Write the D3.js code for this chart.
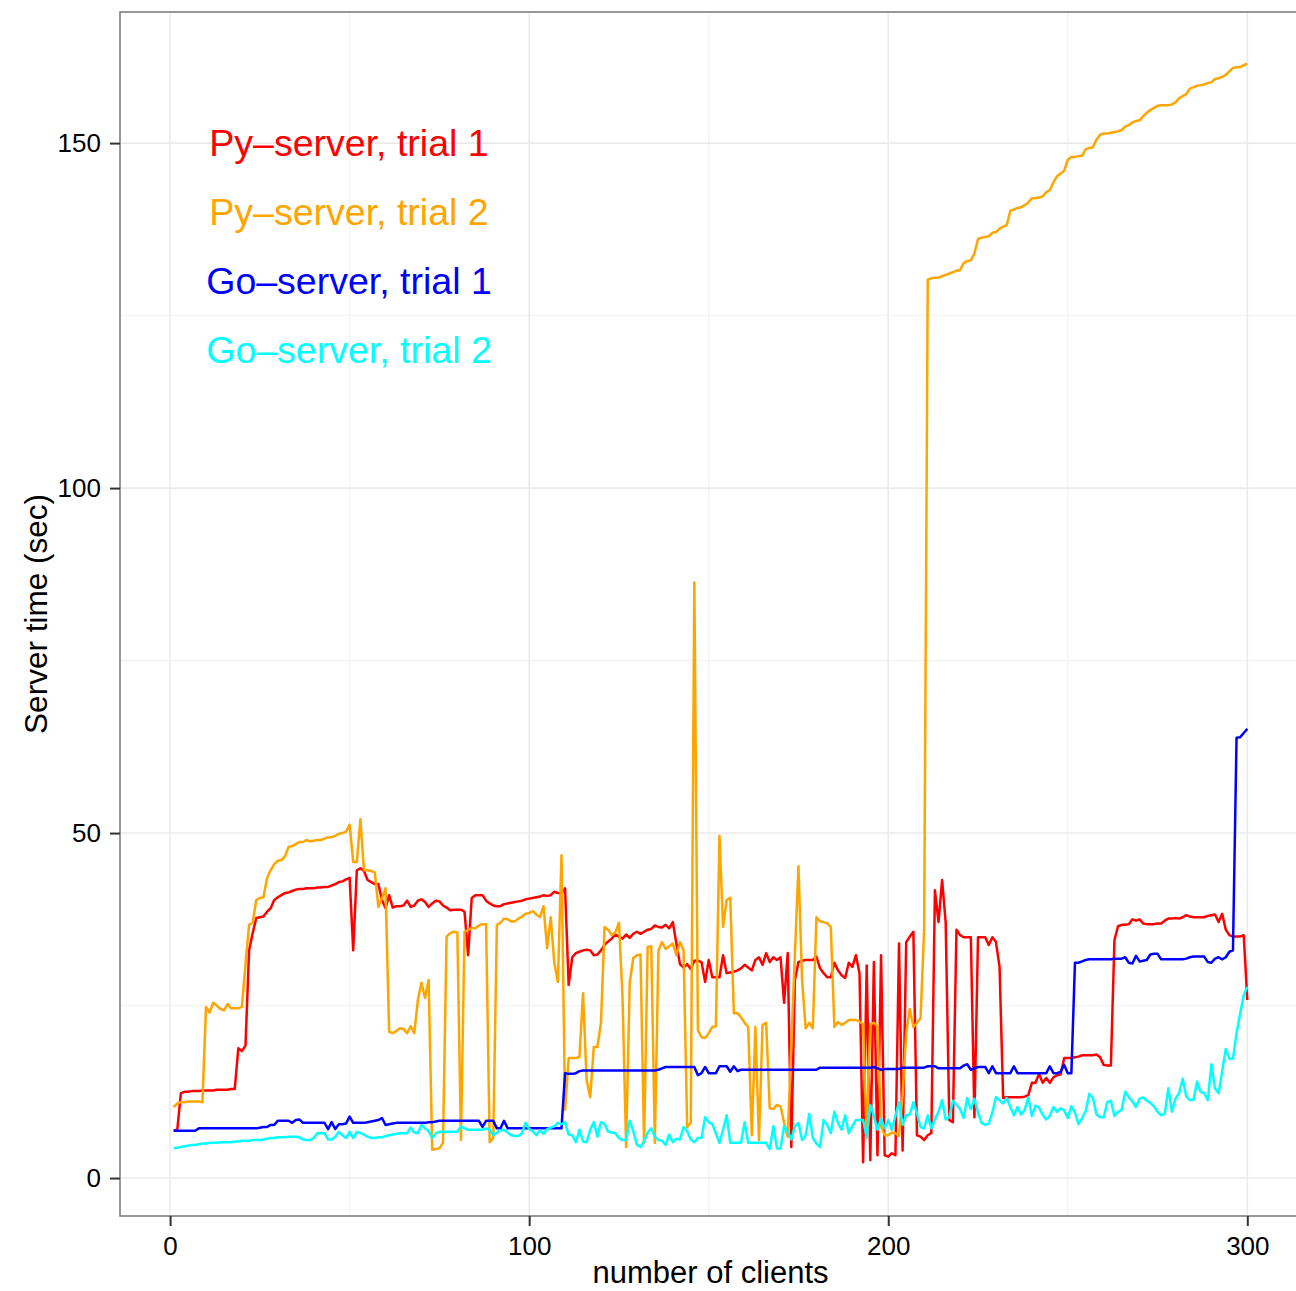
<!DOCTYPE html>
<html>
<head>
<meta charset="utf-8">
<script src="https://cdn.jsdelivr.net/npm/d3@7"></script>
<style>
  body { margin: 0; background: #fff; }
  svg { display: block; font-family: "Liberation Sans", Arial, Helvetica, sans-serif; }
</style>
</head>
<body>
<div id="chart"></div>
<script>
// Data: server time (sec) per number of clients, one value per client count 1..300
const clients = d3.range(1, 301);

const pyTrial1 = [
  6.9, 7.0, 12.3, 12.5, 12.5, 12.6, 12.6, 12.6, 12.7, 12.7,
  12.7, 12.7, 12.8, 12.8, 12.8, 12.8, 12.9, 12.9, 18.8, 18.4,
  19.2, 33, 35.5, 37.7, 37.8, 37.9, 38.6, 39.1, 40.3, 40.7,
  41, 41.3, 41.4, 41.6, 41.8, 41.9, 41.9, 42, 42, 42,
  42.1, 42.1, 42.2, 42.2, 42.4, 42.6, 42.9, 43, 43.3, 43.5,
  33, 44.6, 44.9, 44.5, 43.2, 42.9, 42.6, 42.6, 40.3, 39.1,
  41, 39.2, 39.4, 39.4, 39.5, 40.2, 39.3, 39.5, 40.2, 40.4,
  40, 39.3, 39.8, 40.2, 40.1, 39.5, 39.2, 38.8, 38.9, 38.9,
  38.9, 38.6, 32.3, 40.6, 41, 41, 41, 40.2, 39.8, 39.5,
  39.4, 39.4, 39.7, 39.8, 39.9, 40, 40.1, 40.2, 40.4, 40.5,
  40.6, 40.7, 40.8, 41, 40.9, 41, 41.5, 41.3, 41.2, 42,
  28, 32, 32.6, 32.8, 33, 33.1, 33, 32.3, 32.4, 33,
  33.8, 34.3, 34.7, 35.3, 35, 34.7, 35.3, 34.8, 35.4, 35.7,
  35.4, 35.7, 36, 36.1, 36.6, 36.4, 36.3, 36.7, 36.2, 37.1,
  34, 31, 30.5, 31, 30.3, 31.5, 31.5, 31.3, 28.4, 31.6,
  29.1, 29.1, 29.1, 32.3, 29.7, 29.8, 29.9, 30.1, 30.4, 30.9,
  30.5, 30.1, 31.6, 32, 30.9, 32.6, 31.3, 32, 31.6, 32,
  25.4, 32.6, 4.5, 28.7, 31.3, 31.5, 31.6, 31.6, 31.6, 32.1,
  30.4, 29.7, 29.1, 29.1, 31.2, 30.1, 29.4, 29, 31.2, 30.6,
  32.3, 29.7, 2.3, 30.8, 2.6, 31.3, 3.3, 32.3, 3.3, 3.1,
  3.6, 3.3, 34, 4, 34.2, 35, 35.7, 6.2, 6, 5.5,
  6.2, 6.5, 41.7, 37.1, 43.2, 37, 8.4, 8.1, 36, 35.2,
  34.9, 34.9, 34.9, 8.8, 34.9, 34.9, 34.9, 33.8, 34.9, 34.2,
  30.6, 11.6, 11.7, 11.7, 11.7, 11.7, 11.7, 11.8, 12, 13.8,
  13.8, 15.1, 13.8, 14.5, 13.8, 14.6, 14.9, 15, 17.4, 17.4,
  17.4, 17.5, 17.6, 17.8, 17.8, 17.8, 17.8, 17.9, 17.5, 16.4,
  16.3, 16.3, 34.5, 36.5, 36.7, 36.7, 36.8, 37.5, 37.3, 37.5,
  36.9, 36.8, 36.8, 36.8, 36.9, 36.9, 37.3, 37.6, 37.6, 37.7,
  37.6, 37.8, 38.1, 37.9, 37.8, 37.8, 37.8, 37.8, 38, 38.1,
  38.2, 37.1, 38.3, 36, 35.2, 35, 35, 35, 35.2, 25.8
];

const pyTrial2 = [
  10.3, 10.8, 11, 11, 11.1, 11.1, 11.1, 11.1, 11, 24.8,
  24, 25.4, 25, 24.5, 24.3, 25.2, 24.6, 24.6, 24.6, 24.8,
  31, 36.7, 37, 40.3, 40.6, 40.7, 43.5, 44.6, 45.5, 46,
  46.1, 46.6, 48, 48.1, 48.4, 48.7, 48.7, 49, 48.8, 48.9,
  49, 49, 49.2, 49.4, 49.4, 49.6, 49.9, 50, 50.2, 51.2,
  45.8, 45.8, 52, 44.6, 44.6, 44.5, 44.3, 39.3, 40.6, 42,
  21.2, 21, 21.3, 21.7, 21.6, 21, 22, 21, 25.8, 28.3,
  26.1, 28.7, 4.1, 4.2, 4.3, 5.1, 35, 35.5, 35.7, 35.6,
  5.5, 35.7, 36, 36.2, 36.2, 36.6, 36.8, 36.8, 5.2, 5.8,
  36.7, 37, 37.6, 37.5, 37.2, 37.2, 37.6, 37.9, 38.3, 38.4,
  38.7, 38.2, 37.8, 39.4, 33.3, 37.8, 31.2, 28.4, 46.8, 9.9,
  17.4, 17.4, 17.4, 17.5, 26.8, 14.2, 11.7, 19, 19, 22.5,
  36.4, 36, 35.2, 35.6, 37, 26.2, 4.5, 28.3, 31.9, 32.3,
  32.4, 5.1, 33.5, 33.6, 5.1, 33, 34.2, 33.2, 33.6, 34,
  32.3, 34.2, 33, 7.4, 8, 86.3, 21.4, 20.4, 20.3, 21,
  21.9, 22, 49.6, 36.4, 40.3, 40.6, 23.9, 23.9, 23.3, 22.5,
  21.9, 6.2, 21.9, 5.5, 22.2, 22.5, 10.1, 10, 10.6, 10.4,
  8, 6, 19.2, 32.4, 45.2, 28.7, 21.7, 22.5, 21.7, 37.8,
  37.2, 37.1, 36.9, 36.4, 21.9, 22.6, 22.2, 22.5, 22.9, 22.9,
  22.9, 22.7, 22.3, 5.8, 22.3, 22.5, 22, 7.5, 6.2, 6.2,
  6.6, 6.5, 6.1, 12, 21, 24.5, 21.9, 22.5, 23.2, 36,
  130.2, 130.4, 130.5, 130.5, 130.7, 130.9, 131.1, 131.3, 131.5, 131.6,
  132.6, 132.9, 133, 134, 136.1, 136.3, 136.4, 136.5, 137, 137.1,
  137.6, 137.9, 138.1, 140.2, 140.4, 140.6, 140.7, 141, 141.4, 142,
  142, 142.1, 142.3, 142.9, 143.2, 144.3, 145.2, 145.6, 146, 147.6,
  148, 148, 148.1, 148.2, 149.1, 149.3, 149.4, 150.5, 151.2, 151.4,
  151.4, 151.5, 151.6, 151.7, 151.9, 152.4, 152.6, 153, 153.2, 153.3,
  153.9, 154.4, 154.8, 155.1, 155.4, 155.5, 155.5, 155.5, 155.6, 155.9,
  156.5, 156.8, 157.1, 157.9, 158.1, 158.3, 158.4, 158.5, 158.7, 158.8,
  159.3, 159.4, 159.6, 159.9, 160.4, 160.9, 161, 161, 161.3, 161.5
];

const goTrial1 = [
  6.85, 6.85, 6.85, 6.85, 6.85, 6.85, 6.85, 7.2, 7.2, 7.2,
  7.2, 7.2, 7.2, 7.2, 7.2, 7.2, 7.2, 7.2, 7.2, 7.2,
  7.2, 7.2, 7.2, 7.2, 7.3, 7.4, 7.4, 7.7, 7.7, 8.3,
  8.3, 8.3, 8.3, 8.0, 8.4, 8.5, 8.0, 8.0, 8.0, 8.0,
  8.0, 8.0, 8.0, 7.1, 8.1, 7.1, 7.8, 7.8, 7.9, 8.9,
  8.0, 8.0, 8.0, 8.0, 8.1, 8.2, 8.3, 8.4, 8.7, 7.7,
  7.8, 7.9, 8.0, 8.0, 8.0, 8.0, 8.0, 8.0, 8.0, 8.0,
  8.0, 8.1, 8.1, 8.2, 8.3, 8.3, 8.3, 8.3, 8.3, 8.3,
  8.3, 8.3, 8.3, 8.3, 8.3, 8.3, 7.4, 8.3, 8.3, 8.3,
  7.2, 7.2, 8.3, 7.2, 7.2, 7.2, 7.2, 7.2, 7.2, 7.2,
  7.2, 7.2, 7.2, 7.2, 7.2, 7.2, 7.2, 7.2, 7.2, 15.2,
  15.1, 15.1, 15.2, 15.5, 15.6, 15.6, 15.6, 15.6, 15.6, 15.6,
  15.6, 15.6, 15.6, 15.6, 15.6, 15.6, 15.6, 15.6, 15.6, 15.6,
  15.6, 15.6, 15.6, 15.6, 15.6, 15.7, 15.9, 16.1, 16.1, 16.1,
  16.1, 16.1, 16.1, 16.1, 16.1, 16.1, 14.9, 15.2, 16.1, 15.2,
  15.2, 15.2, 16.2, 16.2, 16.2, 15.4, 16.2, 15.5, 15.7, 15.7,
  15.7, 15.7, 15.7, 15.7, 15.7, 15.7, 15.7, 15.7, 15.7, 15.7,
  15.7, 15.7, 15.7, 15.7, 15.7, 15.7, 15.7, 15.7, 15.7, 15.7,
  16.0, 16.0, 16.0, 16.0, 16.0, 16.0, 16.0, 16.0, 16.0, 16.0,
  16.0, 16.0, 16.0, 16.0, 16.0, 16.1, 15.9, 15.7, 15.8, 15.8,
  15.8, 15.8, 15.8, 16.0, 16.0, 16.0, 16.0, 16.0, 16.0, 16.0,
  16.2, 16.2, 16.2, 15.9, 15.9, 15.9, 15.9, 15.9, 15.9, 15.9,
  16.3, 16.5, 15.7, 15.9, 16.1, 16.1, 16.1, 15.2, 16.2, 15.2,
  15.2, 15.2, 15.2, 15.2, 16.2, 15.2, 15.2, 15.2, 15.2, 15.2,
  15.2, 15.2, 15.2, 15.2, 16.2, 15.2, 15.2, 15.4, 16.4, 15.2,
  15.2, 31.2, 31.2, 31.4, 31.6, 31.7, 31.7, 31.7, 31.7, 31.7,
  31.7, 31.7, 31.8, 31.8, 31.8, 32, 31.2, 31.1, 32.2, 31.4,
  31.5, 31.6, 32.4, 32.5, 32.5, 31.7, 31.7, 31.7, 31.7, 31.7,
  31.7, 31.7, 31.8, 32, 32.1, 32.1, 32.1, 32.1, 31.3, 31.2,
  31.8, 32, 31.7, 32, 32.8, 33, 63.8, 63.9, 64.5, 65.1
];

const goTrial2 = [
  4.3, 4.4, 4.5, 4.6, 4.7, 4.8, 4.8, 4.9, 5.0, 5.0,
  5.1, 5.1, 5.1, 5.2, 5.2, 5.2, 5.2, 5.3, 5.3, 5.4,
  5.4, 5.4, 5.5, 5.5, 5.5, 5.6, 5.7, 5.8, 5.8, 5.9,
  5.9, 5.9, 6.0, 6.0, 6.0, 5.9, 5.6, 5.5, 5.5, 5.8,
  6.5, 6.5, 6.5, 5.6, 5.6, 6.0, 6.7, 6.2, 5.8, 6.7,
  5.8, 6.7, 6.5, 6.3, 6.0, 5.8, 5.8, 5.9, 5.9, 6.1,
  6.2, 6.3, 6.4, 6.5, 6.5, 6.5, 7.3, 6.6, 6.5, 7.7,
  7.2, 6.8, 5.8, 6.5, 6.7, 6.7, 6.7, 6.7, 6.7, 6.7,
  7.5, 7.2, 7.0, 7.0, 7.0, 7.0, 7.0, 7.2, 7.0, 6.2,
  6.6, 6.9, 7.0, 6.6, 6.2, 6.1, 6.1, 6.5, 8.0, 7.1,
  6.8, 6.2, 6.9, 6.4, 7.1, 7.3, 7.5, 8.0, 7.8, 8.1,
  6.3, 6.2, 5.2, 7.0, 5.3, 5.2, 7.0, 8.1, 6.0, 8.1,
  7.8, 6.7, 6.6, 6.5, 5.8, 5.5, 5.5, 8.3, 6.8, 4.8,
  4.5, 5.3, 6.6, 7.2, 6.0, 5.5, 5.4, 4.8, 6.3, 5.2,
  5.7, 5.6, 7.4, 6.8, 5.6, 5.2, 5.8, 5.8, 8.8, 8.1,
  7.8, 6.5, 5.1, 7.0, 9.1, 5.1, 5.1, 5.1, 5.1, 8.1,
  5.1, 5.1, 5.1, 5.1, 5.1, 5.1, 4.2, 7.5, 4.3, 4.3,
  7.5, 6.8, 5.6, 7.5, 8.0, 5.5, 6.2, 9.3, 5.8, 5.0,
  4.5, 8.4, 7.7, 6.5, 9.6, 8.0, 7.0, 9.1, 6.5, 7.5,
  8.4, 8.4, 8.4, 5.9, 10.6, 9.0, 7.0, 8.6, 7.2, 8.4,
  7.0, 9.0, 11.0, 7.7, 9.1, 9.2, 11.0, 9.4, 7.4, 7.2,
  9.1, 7.2, 8.5, 9.6, 11.3, 8.5, 8.8, 11.2, 10.6, 10.0,
  8.7, 11.6, 10.0, 11.5, 9.5, 8.0, 7.7, 7.9, 9.5, 11.7,
  11.3, 10.8, 11.6, 10.3, 9.1, 10.3, 9.2, 9.9, 11.7, 9.0,
  10.5, 10.2, 9.2, 8.5, 9.0, 10.3, 9.6, 10.1, 9.8, 8.7,
  10.4, 9.5, 7.8, 8.7, 9.7, 12.2, 11.6, 9.2, 8.8, 8.8,
  11.0, 11.2, 9.0, 9.6, 9.9, 12.5, 11.7, 11.1, 10.3, 11.5,
  11.7, 11.2, 10.9, 10.4, 9.6, 9.1, 9.3, 13.0, 9.6, 11.5,
  12.3, 14.4, 11.8, 11.3, 11.3, 14.0, 12.5, 12.3, 11.3, 16.5,
  13.0, 12.3, 15.5, 18.7, 17.3, 17.3, 21.0, 23.8, 26.5, 27.7
];

const seriesNames = ['Py\u2013server, trial 1', 'Py\u2013server, trial 2', 'Go\u2013server, trial 1', 'Go\u2013server, trial 2'];
const seriesValues = [pyTrial1, pyTrial2, goTrial1, goTrial2];
const seriesColors = ['#ff0000', '#ffa500', '#0000ff', '#00ffff'];

const xMajorTicks = [0, 100, 200, 300];
const xMinorTicks = [50, 150, 250];
const yMajorTicks = [0, 50, 100, 150];
const yMinorTicks = [25, 75, 125];

// Variables
const width = 1296;
const height = 1291;
const panel = {left: 120, top: 12, right: 1301, bottom: 1216};
const fontFamily = '"Liberation Sans", Arial, Helvetica, sans-serif';

// Scales (ggplot-style 5% expansion around the data range)
const x = d3.scaleLinear()
  .domain([-13.95, 314.95])
  .range([panel.left, panel.right]);
const y = d3.scaleLinear()
  .domain([-5.5, 169])
  .range([panel.bottom, panel.top]);

// Append svg
const svg = d3.select('#chart').append('svg')
  .attr('width', width)
  .attr('height', height)
  .style('background-color', '#fff');

svg.append('defs').append('clipPath')
  .attr('id', 'panel-clip')
  .append('rect')
  .attr('x', panel.left)
  .attr('y', panel.top)
  .attr('width', panel.right - panel.left)
  .attr('height', panel.bottom - panel.top);

// Grid
const grid = svg.append('g').attr('class', 'grid');
grid.selectAll('.x-minor')
  .data(xMinorTicks)
  .join('line')
  .attr('x1', d => x(d)).attr('x2', d => x(d))
  .attr('y1', panel.top).attr('y2', panel.bottom)
  .attr('stroke', '#f4f4f4').attr('stroke-width', 1.4);
grid.selectAll('.y-minor')
  .data(yMinorTicks)
  .join('line')
  .attr('x1', panel.left).attr('x2', panel.right)
  .attr('y1', d => y(d)).attr('y2', d => y(d))
  .attr('stroke', '#f4f4f4').attr('stroke-width', 1.4);
grid.selectAll('.x-major')
  .data(xMajorTicks)
  .join('line')
  .attr('x1', d => x(d)).attr('x2', d => x(d))
  .attr('y1', panel.top).attr('y2', panel.bottom)
  .attr('stroke', '#ebebeb').attr('stroke-width', 1.6);
grid.selectAll('.y-major')
  .data(yMajorTicks)
  .join('line')
  .attr('x1', panel.left).attr('x2', panel.right)
  .attr('y1', d => y(d)).attr('y2', d => y(d))
  .attr('stroke', '#ebebeb').attr('stroke-width', 1.6);

// Lines
const line = d3.line()
  .x((d, i) => x(clients[i]))
  .y(d => y(d));

svg.append('g')
  .attr('class', 'lines')
  .attr('clip-path', 'url(#panel-clip)')
  .selectAll('path')
  .data(seriesValues)
  .join('path')
  .attr('d', d => line(d))
  .attr('fill', 'none')
  .attr('stroke', (d, i) => seriesColors[i])
  .attr('stroke-width', 2.5)
  .attr('stroke-linejoin', 'round');

// Legend labels
svg.append('g')
  .attr('class', 'labels')
  .selectAll('text')
  .data(seriesNames)
  .join('text')
  .attr('x', 349)
  .attr('y', (d, i) => 156 + i * 69)
  .attr('text-anchor', 'middle')
  .attr('font-family', fontFamily)
  .attr('font-size', 37.5)
  .attr('fill', (d, i) => seriesColors[i])
  .text(d => d);

// Panel border
svg.append('rect')
  .attr('x', panel.left)
  .attr('y', panel.top)
  .attr('width', panel.right - panel.left)
  .attr('height', panel.bottom - panel.top)
  .attr('fill', 'none')
  .attr('stroke', '#7f7f7f')
  .attr('stroke-width', 1.6);

// Axes
const yAxis = svg.append('g')
  .attr('transform', `translate(${panel.left},0)`)
  .call(d3.axisLeft(y).tickValues(yMajorTicks).tickSize(10).tickPadding(9));
const xAxis = svg.append('g')
  .attr('transform', `translate(0,${panel.bottom})`)
  .call(d3.axisBottom(x).tickValues(xMajorTicks).tickSize(10).tickPadding(11));

[xAxis, yAxis].forEach(axis => {
  axis.select('.domain').remove();
  axis.selectAll('.tick line').attr('stroke', '#333').attr('stroke-width', 2);
  axis.selectAll('.tick text')
    .attr('font-family', fontFamily)
    .attr('font-size', 26)
    .attr('fill', '#000');
});

// Axis titles
svg.append('text')
  .attr('x', (panel.left + panel.right) / 2)
  .attr('y', 1283)
  .attr('text-anchor', 'middle')
  .attr('font-family', fontFamily)
  .attr('font-size', 31)
  .attr('fill', '#000')
  .text('number of clients');

svg.append('text')
  .attr('transform', `translate(47,${(panel.top + panel.bottom) / 2}) rotate(-90)`)
  .attr('text-anchor', 'middle')
  .attr('font-family', fontFamily)
  .attr('font-size', 31.5)
  .attr('fill', '#000')
  .text('Server time (sec)');
</script>
</body>
</html>
